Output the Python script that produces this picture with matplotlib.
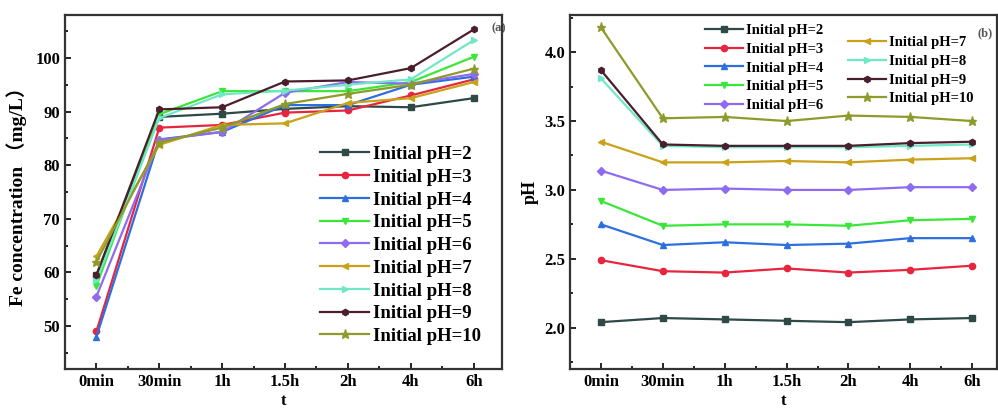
import matplotlib
matplotlib.use('Agg')
from matplotlib import pyplot as plt
from matplotlib.ticker import MultipleLocator

plt.rcParams['font.family'] = ['Liberation Serif', 'Noto Sans CJK SC', 'DejaVu Sans']
plt.rcParams['font.weight'] = 'bold'
plt.rcParams['axes.labelweight'] = 'bold'

times = ['0min', '30min', '1h', '1.5h', '2h', '4h', '6h']
labels = ['Initial pH=%d' % p for p in range(2, 11)]

# Fe concentration (mg/L), panel (a)
fe_ph2 = [59.5, 89.0, 89.6, 90.5, 91.0, 90.8, 92.5]
fe_ph3 = [49.0, 87.0, 87.5, 89.8, 90.2, 93.0, 96.0]
fe_ph4 = [48.0, 84.8, 86.2, 91.2, 91.2, 95.0, 96.5]
fe_ph5 = [57.5, 89.5, 93.8, 93.8, 93.8, 95.5, 100.2]
fe_ph6 = [55.5, 84.7, 86.2, 93.5, 95.5, 95.2, 97.0]
fe_ph7 = [63.0, 83.8, 87.5, 87.8, 91.6, 92.5, 95.5]
fe_ph8 = [58.5, 88.8, 93.2, 93.9, 95.0, 96.0, 103.3]
fe_ph9 = [59.5, 90.4, 90.8, 95.6, 95.8, 98.1, 105.3]
fe_ph10 = [62.0, 84.2, 87.0, 91.4, 93.3, 95.0, 98.0]
fe_all = [fe_ph2, fe_ph3, fe_ph4, fe_ph5, fe_ph6, fe_ph7, fe_ph8, fe_ph9, fe_ph10]

# solution pH, panel (b)
ph_ph2 = [2.04, 2.07, 2.06, 2.05, 2.04, 2.06, 2.07]
ph_ph3 = [2.49, 2.41, 2.40, 2.43, 2.40, 2.42, 2.45]
ph_ph4 = [2.75, 2.60, 2.62, 2.60, 2.61, 2.65, 2.65]
ph_ph5 = [2.92, 2.74, 2.75, 2.75, 2.74, 2.78, 2.79]
ph_ph6 = [3.14, 3.00, 3.01, 3.00, 3.00, 3.02, 3.02]
ph_ph7 = [3.35, 3.20, 3.20, 3.21, 3.20, 3.22, 3.23]
ph_ph8 = [3.81, 3.32, 3.31, 3.31, 3.31, 3.32, 3.33]
ph_ph9 = [3.87, 3.33, 3.32, 3.32, 3.32, 3.34, 3.35]
ph_ph10 = [4.18, 3.52, 3.53, 3.50, 3.54, 3.53, 3.50]
ph_all = [ph_ph2, ph_ph3, ph_ph4, ph_ph5, ph_ph6, ph_ph7, ph_ph8, ph_ph9, ph_ph10]

colors = ['#2F4848', '#E8253F', '#2E6FE0', '#3BE63B', '#8F6BF0',
          '#C9A21A', '#6FE8C8', '#4A1E2A', '#8E9A2A']
markers = ['s', 'o', '^', 'v', 'D', '<', '>', 'h', '*']

fig = plt.figure(figsize=(9.98, 4.11), dpi=100)
axa = fig.add_axes([0.0651, 0.1022, 0.4379, 0.8613])
axb = fig.add_axes([0.5711, 0.1022, 0.4279, 0.8613])

x = list(range(len(times)))

def style(ax):
    for sp in ax.spines.values():
        sp.set_linewidth(1.6)
        sp.set_color('#333333')
    ax.set_xticks(x)
    ax.set_xticklabels(times)
    ax.xaxis.set_minor_locator(MultipleLocator(0.5))
    ax.tick_params(which='both', direction='in', labelsize=12, width=1.2)
    ax.tick_params(which='major', length=4)
    ax.tick_params(which='minor', length=2)
    ax.set_xlabel('t', fontsize=12, labelpad=2)

lines_a = []
for i in range(9):
    ms = 6.5 if markers[i] == '*' else 4.5
    l, = axa.plot(x, fe_all[i], color=colors[i], marker=markers[i], ms=ms, lw=1.6)
    lines_a.append(l)
style(axa)
axa.set_xlim(-0.5, 6.45)
axa.set_ylim(42, 108)
axa.yaxis.set_major_locator(MultipleLocator(10))
axa.yaxis.set_minor_locator(MultipleLocator(5))
axa.set_ylabel('Fe concentration （mg/L）', fontsize=14, labelpad=6)
axa.legend(lines_a, labels, loc='lower right', bbox_to_anchor=(0.99, 0.02),
           frameon=False, handlelength=2.6, labelspacing=0.3,
           handletextpad=0.2, prop={'weight': 'bold', 'size': 13.5})
axa.text(0.975, 0.955, '(a)', transform=axa.transAxes, fontsize=9, color='#555555')

lines_b = []
for i in range(9):
    ms = 6.5 if markers[i] == '*' else 4.5
    l, = axb.plot(x, ph_all[i], color=colors[i], marker=markers[i], ms=ms, lw=1.6)
    lines_b.append(l)
style(axb)
axb.set_xlim(-0.5, 6.4)
axb.set_ylim(1.7, 4.27)
axb.yaxis.set_major_locator(MultipleLocator(0.5))
axb.yaxis.set_minor_locator(MultipleLocator(0.25))
axb.set_ylabel('pH', fontsize=13, labelpad=4)
leg1 = axb.legend(lines_b[:5], labels[:5], loc='upper left', bbox_to_anchor=(0.285, 1.012),
                  frameon=False, handlelength=2.6, labelspacing=0.38,
                  handletextpad=0.2, prop={'weight': 'bold', 'size': 10.5})
axb.add_artist(leg1)
axb.legend(lines_b[5:], labels[5:], loc='upper left', bbox_to_anchor=(0.62, 0.978),
           frameon=False, handlelength=2.6, labelspacing=0.38,
           handletextpad=0.2, prop={'weight': 'bold', 'size': 10.5})
axb.text(0.955, 0.94, '(b)', transform=axb.transAxes, fontsize=9, color='#555555')

fig.savefig('out.png', dpi=100)
